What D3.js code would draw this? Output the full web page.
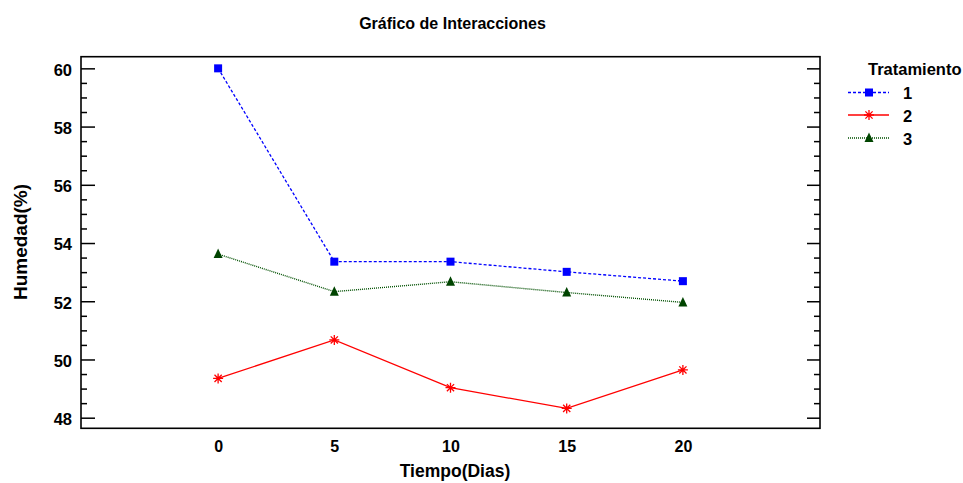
<!DOCTYPE html>
<html><head><meta charset="utf-8">
<script src="https://cdn.jsdelivr.net/npm/d3@7"></script>
<style>html,body{margin:0;padding:0;background:#fff;}svg{display:block;font-family:"Liberation Sans",Arial,sans-serif;font-weight:bold;}</style>
</head><body>
<svg id="chart" width="963" height="483"></svg>
<script>
const days = [0, 5, 10, 15, 20];
const xTickLabels = ["0", "5", "10", "15", "20"];
const yTickValues = [48, 50, 52, 54, 56, 58, 60];
const treatments = ["1", "2", "3"];
const trat1 = [60.0, 53.36, 53.36, 53.01, 52.69];
const trat2 = [49.35, 50.67, 49.03, 48.32, 49.64];
const trat3 = [53.62, 52.33, 52.67, 52.30, 51.96];
const title = "Gráfico de Interacciones";
const xTitle = "Tiempo(Dias)";
const yTitle = "Humedad(%)";
const legendTitle = "Tratamiento";

const series = [
  {name: treatments[0], values: trat1, color: "#0000ff", dash: "3,2", marker: "square"},
  {name: treatments[1], values: trat2, color: "#ff0000", dash: null, marker: "star"},
  {name: treatments[2], values: trat3, color: "#005000", dash: "1,1", marker: "triangle"}
];

const L = 81, R = 820, T = 56.7, B = 428.3;
const svg = d3.select("#chart");
const x = d3.scaleLinear().domain([-5.9, 25.9]).range([L, R]);
const y = d3.scaleLinear().domain([47.636, 60.40]).range([B, T]);

// title
svg.append("text").attr("x", 452.5).attr("y", 29).attr("text-anchor", "middle")
  .attr("font-size", 16).text(title);

// minor ticks
const minor = d3.range(48, 60.01, 0.5).filter(v => v % 2 !== 0);
svg.append("g").attr("transform", `translate(${L},0)`)
  .call(d3.axisRight(y).tickValues(minor).tickSize(6).tickFormat(""))
  .call(g => g.select(".domain").remove())
  .selectAll("line").attr("stroke", "#000").attr("stroke-width", 1.5);
svg.append("g").attr("transform", `translate(${R},0)`)
  .call(d3.axisLeft(y).tickValues(minor).tickSize(6).tickFormat(""))
  .call(g => g.select(".domain").remove())
  .selectAll("line").attr("stroke", "#000").attr("stroke-width", 1.5);
// major ticks
svg.append("g").attr("transform", `translate(${L},0)`)
  .call(d3.axisRight(y).tickValues(yTickValues).tickSize(14).tickFormat(""))
  .call(g => g.select(".domain").remove())
  .selectAll("line").attr("stroke", "#000").attr("stroke-width", 1.5);
svg.append("g").attr("transform", `translate(${R},0)`)
  .call(d3.axisLeft(y).tickValues(yTickValues).tickSize(13).tickFormat(""))
  .call(g => g.select(".domain").remove())
  .selectAll("line").attr("stroke", "#000").attr("stroke-width", 1.5);
// y labels
const yl = svg.append("g").attr("transform", `translate(${L},0)`)
  .call(d3.axisLeft(y).tickValues(yTickValues).tickSize(0).tickPadding(9).tickFormat(d3.format("d")));
yl.select(".domain").remove();
yl.selectAll("text").attr("font-size", 16.5).attr("font-family", null).attr("fill", "#000").attr("dy", "0.42em");

// x labels
const xl = svg.append("g").attr("transform", `translate(0,${B})`)
  .call(d3.axisBottom(x).tickValues(days).tickSize(0).tickPadding(12).tickFormat((d, i) => xTickLabels[i]));
xl.select(".domain").remove();
xl.selectAll("text").attr("font-size", 16).attr("font-family", null).attr("fill", "#000");

// frame
svg.append("rect").attr("x", L).attr("y", T).attr("width", R - L).attr("height", B - T)
  .attr("fill", "none").attr("stroke", "#000").attr("stroke-width", 1.6);

// axis titles
svg.append("text").attr("x", 455).attr("y", 477).attr("text-anchor", "middle")
  .attr("font-size", 17.5).text(xTitle);
svg.append("text").attr("transform", "translate(27,242) rotate(-90)").attr("text-anchor", "middle")
  .attr("font-size", 19).text(yTitle);

function drawMarker(g, type, color) {
  if (type === "square") {
    g.append("rect").attr("x", -4).attr("y", -4).attr("width", 8).attr("height", 8).attr("fill", color);
  } else if (type === "triangle") {
    g.append("path").attr("d", "M0,-5.5L4.5,4L-4.5,4Z").attr("fill", "#004400");
  } else {
    const r = 5, d = 3.6;
    g.append("path").attr("d", `M0,${-r}V${r}M${-r},0H${r}M${-d},${-d}L${d},${d}M${-d},${d}L${d},${-d}`)
      .attr("stroke", color).attr("stroke-width", 1.3).attr("fill", "none");
  }
}

const line = d3.line().x((d, i) => x(days[i])).y(d => y(d));
series.forEach(s => {
  svg.append("path").datum(s.values).attr("d", line).attr("fill", "none")
    .attr("stroke", s.color).attr("stroke-width", s.dash === "1,1" ? 1.4 : 1.3)
    .attr("stroke-dasharray", s.dash);
  s.values.forEach((v, i) => {
    const g = svg.append("g").attr("transform", `translate(${x(days[i])},${y(v)})`);
    drawMarker(g, s.marker, s.color);
  });
});

// legend
svg.append("text").attr("x", 868).attr("y", 75).attr("font-size", 16.5).text(legendTitle);
const legY = [92.5, 115, 138];
series.forEach((s, i) => {
  const ly = legY[i];
  svg.append("line").attr("x1", 848).attr("x2", 889).attr("y1", ly).attr("y2", ly)
    .attr("stroke", s.color).attr("stroke-width", 1.3).attr("stroke-dasharray", s.dash);
  const g = svg.append("g").attr("transform", `translate(869,${ly})`);
  drawMarker(g, s.marker, s.color);
  svg.append("text").attr("x", 903).attr("y", ly + 6.5).attr("font-size", 16.5).text(s.name);
});
</script>
</body></html>
